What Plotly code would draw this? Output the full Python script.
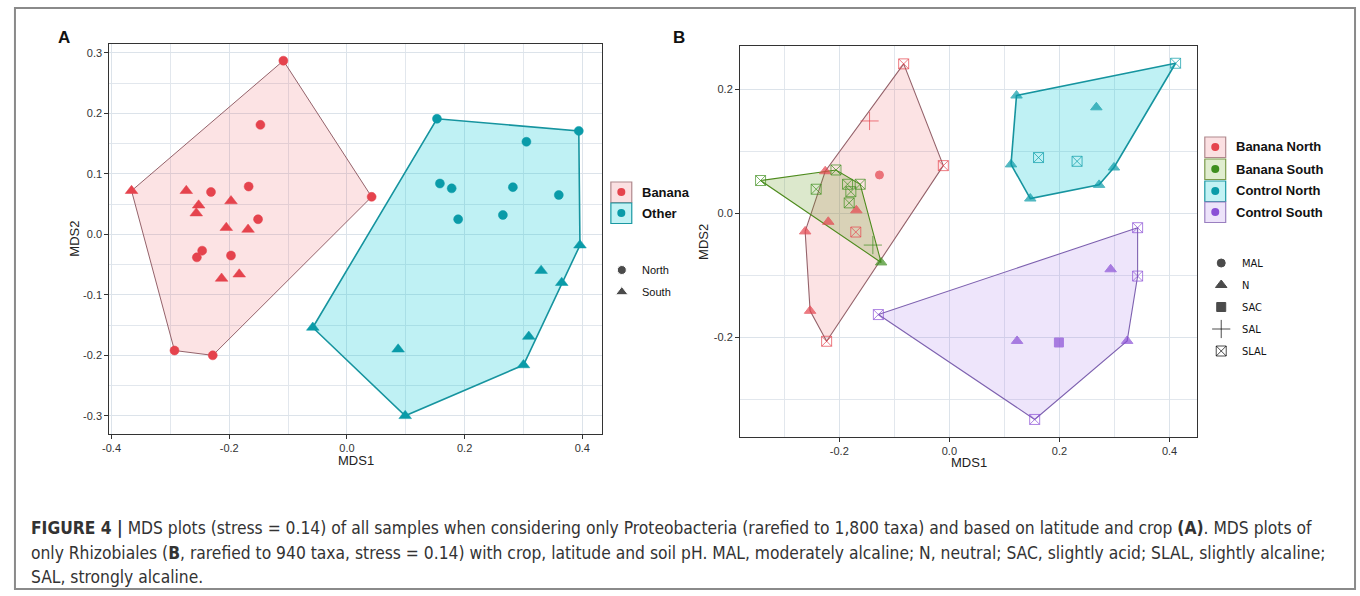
import plotly.graph_objects as go

W, H = 1360, 596

# ---------------- Panel A: Proteobacteria, crop x latitude ----------------
a_banana_north_x = [-0.108, -0.147, -0.231, -0.167, -0.151, 0.042, -0.246, -0.255, -0.197, -0.293, -0.228]
a_banana_north_y = [0.287, 0.181, 0.070, 0.079, 0.025, 0.062, -0.027, -0.038, -0.035, -0.192, -0.200]
a_banana_south_x = [-0.366, -0.273, -0.197, -0.252, -0.256, -0.205, -0.168, -0.213, -0.183]
a_banana_south_y = [0.072, 0.072, 0.055, 0.048, 0.035, 0.011, 0.008, -0.073, -0.066]
a_other_north_x = [0.153, 0.394, 0.305, 0.158, 0.178, 0.282, 0.360, 0.189, 0.265]
a_other_north_y = [0.191, 0.171, 0.153, 0.084, 0.076, 0.078, 0.065, 0.025, 0.032]
a_other_south_x = [0.396, 0.330, 0.365, 0.309, 0.087, 0.300, 0.099, -0.058]
a_other_south_y = [-0.018, -0.060, -0.080, -0.169, -0.190, -0.216, -0.300, -0.154]

a_xtick_vals = [-0.4, -0.2, 0.0, 0.2, 0.4]
a_xtick_text = ["-0.4", "-0.2", "0.0", "0.2", "0.4"]
a_xminor_vals = [-0.3, -0.1, 0.1, 0.3]
a_ytick_vals = [-0.3, -0.2, -0.1, 0.0, 0.1, 0.2, 0.3]
a_ytick_text = ["-0.3", "-0.2", "-0.1", "0.0", "0.1", "0.2", "0.3"]
a_yminor_vals = [-0.25, -0.15, -0.05, 0.05, 0.15, 0.25]

# ---------------- Panel B: Rhizobiales, crop x latitude x soil pH ----------------
b_banana_north_x = [-0.127, -0.2255, -0.169, -0.220, -0.262, -0.253, -0.145, -0.083, -0.011, -0.170, -0.223]
b_banana_north_y = [0.062, 0.068, 0.005, -0.0135, -0.029, -0.157, 0.149, 0.241, 0.077, -0.030, -0.206]
b_banana_north_ph = ["MAL", "N", "N", "N", "N", "N", "SAL", "SLAL", "SLAL", "SLAL", "SLAL"]

b_banana_south_x = [-0.124, -0.139, -0.343, -0.206, -0.242, -0.185, -0.162, -0.179, -0.182]
b_banana_south_y = [-0.079, -0.051, 0.053, 0.070, 0.039, 0.047, 0.047, 0.035, 0.017]
b_banana_south_ph = ["N", "SAL", "SLAL", "SLAL", "SLAL", "SLAL", "SLAL", "SLAL", "SLAL"]

b_control_north_x = [0.122, 0.267, 0.112, 0.299, 0.272, 0.147, 0.411, 0.162, 0.232]
b_control_north_y = [0.190, 0.171, 0.079, 0.074, 0.046, 0.024, 0.242, 0.090, 0.084]
b_control_north_ph = ["N", "N", "N", "N", "N", "N", "SLAL", "SLAL", "SLAL"]

b_control_south_x = [0.293, 0.123, 0.323, 0.199, 0.342, 0.342, 0.155, -0.129]
b_control_south_y = [-0.090, -0.2055, -0.2055, -0.208, -0.023, -0.101, -0.332, -0.163]
b_control_south_ph = ["N", "N", "N", "SAC", "SLAL", "SLAL", "SLAL", "SLAL"]

b_xtick_vals = [-0.2, 0.0, 0.2, 0.4]
b_xtick_text = ["-0.2", "0.0", "0.2", "0.4"]
b_xminor_vals = [-0.3, -0.1, 0.1, 0.3]
b_ytick_vals = [-0.2, 0.0, 0.2]
b_ytick_text = ["-0.2", "0.0", "0.2"]
b_yminor_vals = [-0.3, -0.1, 0.1]

ph_classes = ["MAL", "N", "SAC", "SAL", "SLAL"]
a_groups = ["Banana", "Other"]
a_latitudes = ["North", "South"]
b_groups = ["Banana North", "Banana South", "Control North", "Control South"]

caption_lines = [
    "<b>FIGURE 4 |</b> MDS plots (stress = 0.14) of all samples when considering only Proteobacteria "
    "(rarefied to 1,800 taxa) and based on latitude and crop <b>(A)</b>. MDS plots of",
    "only Rhizobiales (<b>B</b>, rarefied to 940 taxa, stress = 0.14) with crop, latitude and soil pH. "
    "MAL, moderately alcaline; N, neutral; SAC, slightly acid; SLAL, slightly alcaline;",
    "SAL, strongly alcaline.",
]

# ---------------- styling ----------------
RED, TEAL, GREEN, PURPLE = "#E5434D", "#0A9BA8", "#3E8E1E", "#8A4FD6"
FILLS = {
    RED: "rgba(232,67,76,0.15)",
    TEAL: "rgba(0,200,210,0.25)",
    GREEN: "rgba(110,160,40,0.24)",
    PURPLE: "rgba(160,110,235,0.18)",
}
EDGES = {RED: "#94626A", TEAL: "#16949F", GREEN: "#4E8B1E", PURPLE: "#7E62B0"}
KEY_FILL = {RED: "#FBE0E2", TEAL: "#C2F2F4", GREEN: "#E0EDCF", PURPLE: "#EDE3FA"}
KEY_EDGE = {RED: "#B0898D", TEAL: "#1A98A2", GREEN: "#7B9A4A", PURPLE: "#9A7FC0"}
SYMBOL = {"MAL": "circle", "N": "triangle-up", "SAC": "square",
          "SAL": "cross-thin-open", "SLAL": "square-x-open"}
SIZE = {"MAL": 8, "N": 10, "SAC": 9, "SAL": 13, "SLAL": 10}
FONT = "Liberation Sans, Arial, sans-serif"
NARROW = "DejaVu Sans Condensed, Liberation Sans Narrow, sans-serif"
GRID, GRID_MINOR = "#DCE3EA", "#E2E7ED"


def px_x(x):
    return x / W


def px_y(y):
    return 1 - y / H


def convex_hull(xs, ys):
    pts = sorted(set(zip(xs, ys)))

    def cross(o, a, b):
        return (a[0] - o[0]) * (b[1] - o[1]) - (a[1] - o[1]) * (b[0] - o[0])

    lower, upper = [], []
    for p in pts:
        while len(lower) >= 2 and cross(lower[-2], lower[-1], p) <= 0:
            lower.pop()
        lower.append(p)
    for p in reversed(pts):
        while len(upper) >= 2 and cross(upper[-2], upper[-1], p) <= 0:
            upper.pop()
        upper.append(p)
    hull = lower[:-1] + upper[:-1]
    hull.append(hull[0])
    return [p[0] for p in hull], [p[1] for p in hull]


fig = go.Figure()


def add_hull(xs, ys, color, xa, ya, width=1.2):
    hx, hy = convex_hull(xs, ys)
    fig.add_trace(go.Scatter(x=hx, y=hy, mode="lines", fill="toself",
                             fillcolor=FILLS[color], line=dict(color=EDGES[color], width=width),
                             xaxis=xa, yaxis=ya, showlegend=False, hoverinfo="skip"))


# Panel A hulls then points
add_hull(a_banana_north_x + a_banana_south_x, a_banana_north_y + a_banana_south_y, RED, "x", "y", 1.0)
add_hull(a_other_north_x + a_other_south_x, a_other_north_y + a_other_south_y, TEAL, "x", "y", 1.6)
for xs, ys, color, sym, sz in [
    (a_banana_north_x, a_banana_north_y, RED, "circle", 9),
    (a_banana_south_x, a_banana_south_y, RED, "triangle-up", 11),
    (a_other_north_x, a_other_north_y, TEAL, "circle", 9),
    (a_other_south_x, a_other_south_y, TEAL, "triangle-up", 11),
]:
    fig.add_trace(go.Scatter(x=xs, y=ys, mode="markers", xaxis="x", yaxis="y", showlegend=False,
                             marker=dict(symbol=sym, size=sz, color=color,
                                         line=dict(color=color, width=0.5))))

# Panel B hulls then points
b_data = [
    (b_banana_north_x, b_banana_north_y, b_banana_north_ph, RED),
    (b_banana_south_x, b_banana_south_y, b_banana_south_ph, GREEN),
    (b_control_north_x, b_control_north_y, b_control_north_ph, TEAL),
    (b_control_south_x, b_control_south_y, b_control_south_ph, PURPLE),
]
for xs, ys, ph, color in b_data:
    add_hull(xs, ys, color, "x2", "y2", 1.6 if color == TEAL else 1.1)
for xs, ys, ph, color in b_data:
    fig.add_trace(go.Scatter(x=xs, y=ys, mode="markers", xaxis="x2", yaxis="y2", showlegend=False,
                             marker=dict(symbol=[SYMBOL[p] for p in ph], size=[SIZE[p] for p in ph],
                                         color=color, line=dict(color=color, width=1))))

# Legend glyphs, placed on a transparent full-figure axis measured in pixels
fig.add_trace(go.Scatter(x=[617.5, 617.5], y=[192, 213], mode="markers", xaxis="x3", yaxis="y3",
                         showlegend=False, hoverinfo="skip",
                         marker=dict(symbol="circle", size=8, color=[RED, TEAL])))
fig.add_trace(go.Scatter(x=[618, 618], y=[270, 292], mode="markers", xaxis="x3", yaxis="y3",
                         showlegend=False, hoverinfo="skip",
                         marker=dict(symbol=["circle", "triangle-up"], size=[9, 11], color="black")))
b_key_y = [147, 169, 191, 212]
fig.add_trace(go.Scatter(x=[1214.5] * 4, y=b_key_y, mode="markers", xaxis="x3", yaxis="y3",
                         showlegend=False, hoverinfo="skip",
                         marker=dict(symbol="circle", size=8, color=[RED, GREEN, TEAL, PURPLE])))
b_ph_y = [263, 285, 307, 329, 351]
fig.add_trace(go.Scatter(x=[1220.5] * 5, y=b_ph_y, mode="markers", xaxis="x3", yaxis="y3",
                         showlegend=False, hoverinfo="skip",
                         marker=dict(symbol=[SYMBOL[p] for p in ph_classes],
                                     size=[SIZE[p] for p in ph_classes], color="black",
                                     line=dict(color="black", width=1))))

shapes = [
    dict(type="rect", xref="paper", yref="paper", x0=px_x(8), x1=px_x(1355), y0=px_y(8), y1=px_y(589),
         line=dict(color="#8A8A8A", width=2), layer="below"),
]
for yc, color in zip([192, 213], [RED, TEAL]):
    shapes.append(dict(type="rect", xref="paper", yref="paper", x0=px_x(607), x1=px_x(628),
                       y0=px_y(yc - 10), y1=px_y(yc + 10.5),
                       fillcolor=KEY_FILL[color], line=dict(color=KEY_EDGE[color], width=1.2),
                       layer="below"))
for yc, color in zip(b_key_y, [RED, GREEN, TEAL, PURPLE]):
    shapes.append(dict(type="rect", xref="paper", yref="paper", x0=px_x(1204), x1=px_x(1225),
                       y0=px_y(yc - 10), y1=px_y(yc + 10.5),
                       fillcolor=KEY_FILL[color], line=dict(color=KEY_EDGE[color], width=1.2),
                       layer="below"))

annotations = []


def px_text(x, y, text, size, anchor="left", bold=False, angle=0, family=FONT, color="#111111"):
    annotations.append(dict(xref="paper", yref="paper", x=px_x(x), y=px_y(y),
                            text=f"<b>{text}</b>" if bold else text,
                            showarrow=False, xanchor=anchor, yanchor="middle", textangle=angle,
                            font=dict(family=family, size=size, color=color)))


px_text(57, 38, "A", 17, "center", bold=True)
px_text(675, 38, "B", 17, "center", bold=True)
px_text(350.5, 460, "MDS1", 13, "center", color="#222222")
px_text(67, 239, "MDS2", 13, "center", angle=-90, color="#222222")
px_text(966.5, 462, "MDS1", 13, "center", color="#222222")
px_text(700, 241.5, "MDS2", 13, "center", angle=-90, color="#222222")

for yc, name in zip([192, 213], a_groups):
    px_text(636, yc, name, 13, bold=True)
for yc, name in zip([270, 292], a_latitudes):
    px_text(636, yc, name, 11)
for yc, name in zip(b_key_y, b_groups):
    px_text(1233, yc, name, 13, bold=True)
for yc, name in zip(b_ph_y, ph_classes):
    px_text(1239, yc, name, 11, family=NARROW)

for i, line in enumerate(caption_lines):
    px_text(22, 528 + 24.5 * i, line, 17.3, family=NARROW, color="#333333")


def axis_style(domain, rng, tickvals, ticktext, minor_vals, anchor):
    return dict(domain=domain, range=rng, anchor=anchor, tickmode="array",
                tickvals=tickvals, ticktext=ticktext, showgrid=True, gridcolor=GRID, gridwidth=1.3,
                minor=dict(tickmode="array", tickvals=minor_vals, showgrid=True,
                           gridcolor=GRID_MINOR, gridwidth=1, ticks=""),
                zeroline=False, showline=True, mirror=True, linecolor="#333333", linewidth=1.4,
                ticks="outside", ticklen=4, tickwidth=1, tickcolor="#333333",
                tickfont=dict(family=FONT, size=11, color="#333333"), fixedrange=True)


fig.update_layout(
    width=W, height=H, margin=dict(l=0, r=0, t=0, b=0, pad=0),
    paper_bgcolor="white", plot_bgcolor="rgba(0,0,0,0)",
    xaxis=axis_style([103 / W, 598 / W], [-0.4035, 0.4333], a_xtick_vals, a_xtick_text, a_xminor_vals, "y"),
    yaxis=axis_style([1 - 434 / H, 1 - 44 / H], [-0.330, 0.3146], a_ytick_vals, a_ytick_text, a_yminor_vals, "x"),
    xaxis2=axis_style([737 / W, 1196 / W], [-0.380, 0.4496], b_xtick_vals, b_xtick_text, b_xminor_vals, "y2"),
    yaxis2=axis_style([1 - 437 / H, 1 - 46 / H], [-0.3603, 0.2698], b_ytick_vals, b_ytick_text, b_yminor_vals, "x2"),
    xaxis3=dict(domain=[0, 1], range=[0, W], visible=False, anchor="y3", fixedrange=True),
    yaxis3=dict(domain=[0, 1], range=[H, 0], visible=False, anchor="x3", fixedrange=True),
    shapes=shapes, annotations=annotations, showlegend=False,
)

fig.write_html("out.html")
